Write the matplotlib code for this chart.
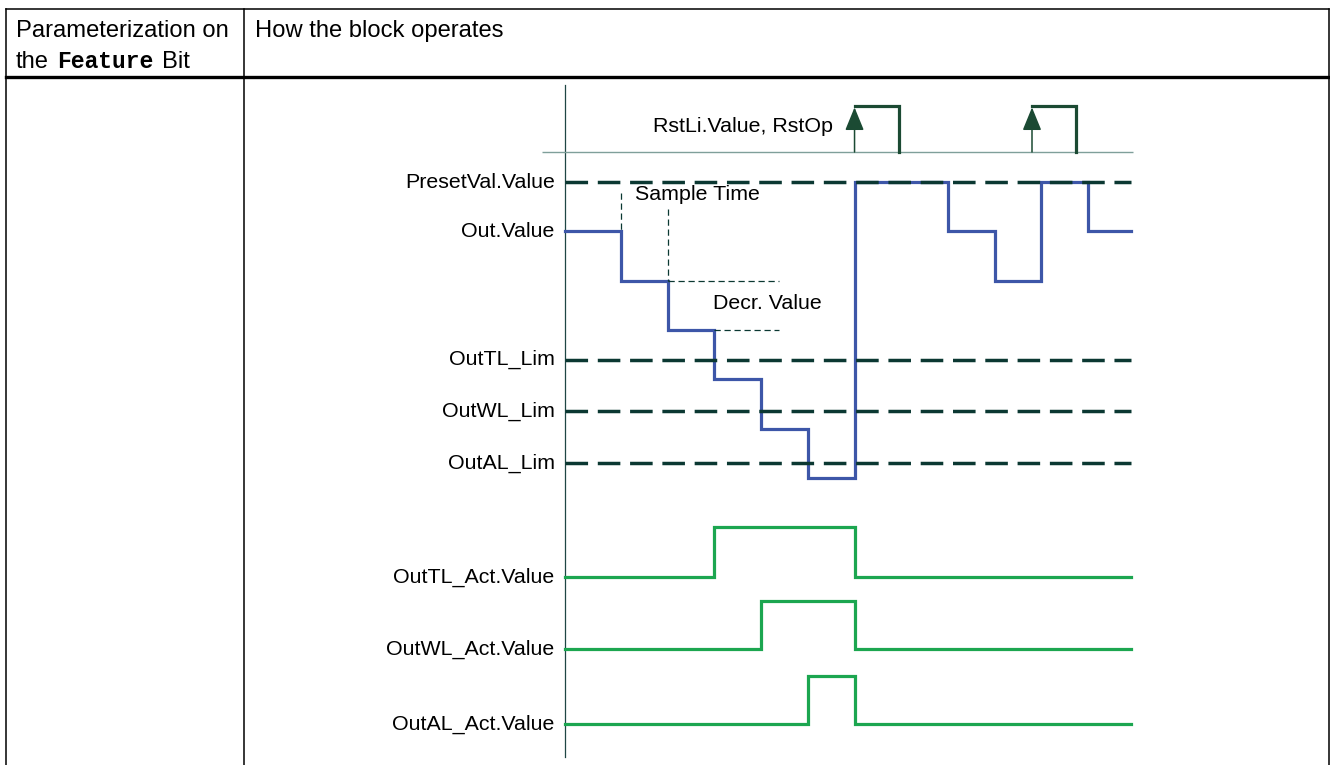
import matplotlib.pyplot as plt

plt.rcParams['font.family'] = ['Liberation Sans', 'DejaVu Sans']

W, H, DPI = 1330, 765, 100

# timing data, time in units of one sample time
t_out = [0, 1.2, 2.2, 3.2, 4.2, 5.2, 6.2, 8.2, 9.2, 10.2, 11.2, 12.13]
out_val = [90, 80, 70, 60, 50, 40, 100, 90, 80, 100, 90]
preset_val = 100
lim_names = ["OutTL_Lim", "OutWL_Lim", "OutAL_Lim"]
lim_vals = [64, 53.5, 43]
rst_rise = [6.2, 10.0]
rst_fall = [7.15, 10.95]
act_names = ["OutTL_Act.Value", "OutWL_Act.Value", "OutAL_Act.Value"]
act_on = [3.2, 4.2, 5.2]
act_off = [6.2, 6.2, 6.2]
t_end = 12.13

# layout (pixels)
X0, PX = 565, 46.7          # x pixel of t=0, pixels per sample
XLIM = (-0.6, 12.4)
FS = 15.4
HFS = 17.1
BLUE, GREEN = "#3d56a8", "#1ca650"
DARK, PULSE = "#0b3832", "#1b4a33"

fig = plt.figure(figsize=(W / DPI, H / DPI), dpi=DPI)

# table frame
fr = fig.add_axes([0, 0, 1, 1])
fr.set_xlim(0, W)
fr.set_ylim(H, 0)
fr.axis('off')
fr.plot([6, 1329], [9, 9], color='k', lw=1.1)
fr.plot([6, 1329], [77, 77], color='k', lw=2.4)
for x in (6, 244, 1329):
    fr.plot([x, x], [9, H], color='k', lw=1.1)
fr.text(16, 37, "Parameterization on", fontsize=HFS, va='baseline')
fr.text(16, 68, "the", fontsize=HFS, va='baseline')
fr.text(57, 68, "Feature", fontsize=16.6, va='baseline',
        family='Liberation Mono', weight='bold')
fr.text(162, 68, "Bit", fontsize=HFS, va='baseline')
fr.text(255, 37, "How the block operates", fontsize=HFS, va='baseline')
fr.plot([X0, X0], [85, 757], color="#1f4644", lw=0.9)


def add_ax(top, bottom, ylim):
    left = X0 + XLIM[0] * PX
    width = (XLIM[1] - XLIM[0]) * PX
    ax = fig.add_axes([left / W, 1 - bottom / H, width / W, (bottom - top) / H])
    ax.set_xlim(*XLIM)
    ax.set_ylim(*ylim)
    ax.axis('off')
    return ax


# reset pulses
ax_r = add_ax(106, 152, (0, 1))
ax_r.hlines(0, -0.49, 12.16, color="#7f9f9a", lw=1.0, clip_on=False)
for r, f in zip(rst_rise, rst_fall):
    ax_r.plot([r, f, f], [1, 1, 0], color=PULSE, lw=2.3, clip_on=False,
              solid_joinstyle='miter')
    ax_r.annotate('', xy=(r, 0.97), xytext=(r, 0),
                  arrowprops=dict(arrowstyle='-|>,head_length=1.1,head_width=0.45',
                                  mutation_scale=13, lw=1.1, color=PULSE,
                                  shrinkA=0, shrinkB=0), annotation_clip=False)
ax_r.text(5.74, 0.55, "RstLi.Value, RstOp", fontsize=FS, ha='right', va='center')

# output value and limits
ax_v = add_ax(182, 478, (40, 100))
ax_v.step(t_out, out_val + [out_val[-1]], where='post', color=BLUE, lw=2.3,
          clip_on=False, solid_joinstyle='miter')
ax_v.hlines([preset_val] + lim_vals, 0, t_end, color=DARK, lw=2.5,
            linestyles=(0, (6.5, 2.8)), clip_on=False)
ax_v.text(-0.22, preset_val, "PresetVal.Value", fontsize=FS, ha='right', va='center')
ax_v.text(-0.22, out_val[0], "Out.Value", fontsize=FS, ha='right', va='center')
for name, v in zip(lim_names, lim_vals):
    ax_v.text(-0.22, v, name, fontsize=FS, ha='right', va='center')

# sample time / decrement annotations
thin = dict(color=DARK, lw=0.9, linestyle=(0, (5, 3)), clip_on=False)
ax_v.plot([t_out[1], t_out[1]], [97.8, out_val[0]], **thin)
ax_v.plot([t_out[2], t_out[2]], [94.5, out_val[1]], **thin)
ax_v.plot([t_out[2], 4.58], [out_val[1], out_val[1]], **thin)
ax_v.plot([t_out[3], 4.58], [out_val[2], out_val[2]], **thin)
ax_v.text(1.5, 97.4, "Sample Time", fontsize=FS, va='center')
ax_v.text(3.17, 75.4, "Decr. Value", fontsize=FS, va='center')

# limit active signals
act_px = [(527, 577), (601, 649), (676, 724)]
for name, on, off, (hi, lo) in zip(act_names, act_on, act_off, act_px):
    ax = add_ax(hi, lo, (0, 1))
    ax.plot([0, on, on, off, off, t_end], [0, 0, 1, 1, 0, 0], color=GREEN,
            lw=2.3, clip_on=False, solid_joinstyle='miter')
    ax.text(-0.22, 0, name, fontsize=FS, ha='right', va='center')

fig.savefig("out.png", dpi=DPI)
